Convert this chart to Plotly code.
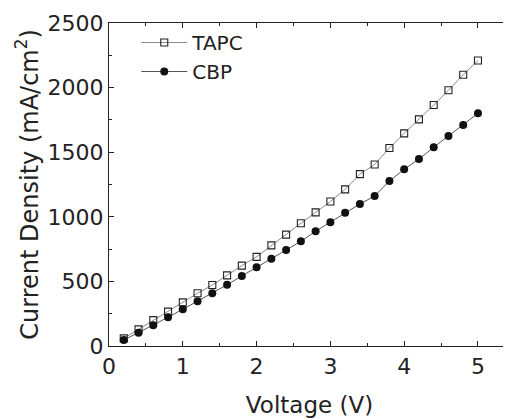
import plotly.graph_objects as go

voltage = [0.2, 0.4, 0.6, 0.8, 1.0, 1.2, 1.4, 1.6, 1.8, 2.0, 2.2, 2.4, 2.6,
           2.8, 3.0, 3.2, 3.4, 3.6, 3.8, 4.0, 4.2, 4.4, 4.6, 4.8, 5.0]
tapc = [59, 129, 200, 266, 338, 408, 472, 547, 622, 690, 779, 862, 950,
        1034, 1118, 1212, 1330, 1405, 1533, 1646, 1754, 1865, 1979, 2100, 2210]
cbp = [46, 103, 160, 222, 284, 346, 408, 474, 542, 609, 676, 743, 810,
       888, 958, 1032, 1099, 1161, 1277, 1368, 1447, 1538, 1625, 1710, 1801]

FONT = "DejaVu Sans, Arial"
INK = "#222222"

fig = go.Figure()
fig.add_trace(go.Scatter(
    x=voltage, y=tapc, name="TAPC", mode="lines+markers",
    line=dict(color="#8a8a8a", width=1),
    marker=dict(symbol="square-open", size=7, color=INK, line=dict(width=1.1, color=INK)),
))
fig.add_trace(go.Scatter(
    x=voltage, y=cbp, name="CBP", mode="lines+markers",
    line=dict(color="#555555", width=1),
    marker=dict(symbol="circle", size=8, color="#111111"),
))

axis_common = dict(
    showline=True, linecolor=INK, linewidth=1.3, mirror="ticks",
    ticks="inside", ticklen=5, tickwidth=1.3, tickcolor=INK,
    showgrid=False, zeroline=False,
    tickfont=dict(family=FONT, size=22, color=INK),
)

# body has an 8px default margin in the written page; compensate here
fig.update_layout(
    width=503, height=411,
    margin=dict(l=101, r=1, t=15, b=73),
    paper_bgcolor="white", plot_bgcolor="white",
    showlegend=True,
    legend=dict(x=0.068, y=1.0, xanchor="left", yanchor="top",
                bgcolor="rgba(0,0,0,0)", font=dict(family=FONT, size=20, color=INK),
                itemwidth=46, tracegroupgap=0),
    xaxis=dict(range=[0, 5.434], dtick=1, tick0=0,
               minor=dict(dtick=0.5, ticks="inside", ticklen=3, tickwidth=1.1, tickcolor=INK),
               ticklabelstandoff=0,
               title=dict(text="Voltage (V)", font=dict(family=FONT, size=23, color=INK), standoff=19),
               **axis_common),
    yaxis=dict(range=[0, 2500], dtick=500, tick0=0,
               minor=dict(dtick=250, ticks="inside", ticklen=3, tickwidth=1.1, tickcolor=INK),
               title=dict(text="Current Density (mA/cm<sup>2</sup>)", font=dict(family=FONT, size=24, color=INK), standoff=2),
               **axis_common),
)

fig.write_html("out.html")
